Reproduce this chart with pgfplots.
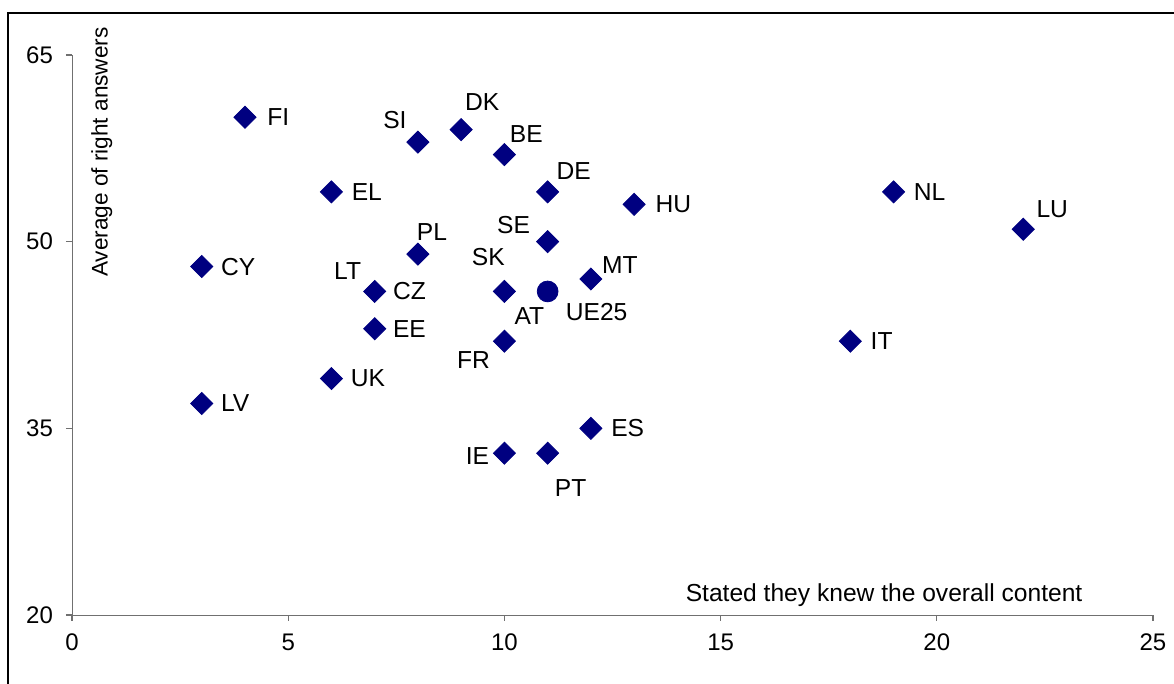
\documentclass[border=0pt]{standalone}
\usepackage{fontspec}
\setmainfont{Liberation Sans}
\usepackage{pgfplots}
\pgfplotsset{compat=1.18}
\definecolor{navy}{HTML}{000080}
\definecolor{axisgray}{HTML}{707070}

\pgfplotstableread{
x  y
4  60
9  59
8  58
10 57
6  54
11 54
13 53
19 54
22 51
11 50
8  49
3  48
12 47
7  46
10 46
7  43
10 42
18 42
6  39
3  37
12 35
10 33
11 33
}\countries

\begin{document}
\begin{tikzpicture}
\useasboundingbox (0,0) rectangle (587pt,342pt);
\clip (0,0) rectangle (587pt,342pt);
\draw[line width=1pt] (4pt,-5pt) -- (4pt,335.5pt) -- (600pt,335.5pt);
\begin{axis}[
    at={(36pt,34.5pt)}, anchor=south west,
    scale only axis,
    width=540.5pt, height=280pt,
    xmin=0, xmax=25, ymin=20, ymax=65,
    xtick={0,5,...,25}, ytick={20,35,50,65},
    axis lines=left,
    axis line style={draw=axisgray, -},
    tick style={draw=axisgray, line width=0.6pt},
    tick align=outside,
    major tick length=3pt,
    tick label style={font=\fontsize{12}{14}\selectfont},
    /pgf/number format/assume math mode=true,
    xticklabel style={yshift=-3pt},
    yticklabel style={xshift=-3pt},
    clip=false,
]
\addplot[only marks, mark=square*, mark size=3.9pt, color=navy,
    mark options={rotate=45, fill=navy, draw=navy}] table {\countries};
\addplot[only marks, mark=*, mark size=5.2pt, color=navy,
    mark options={fill=navy, draw=navy}] coordinates {(11,46)};

\begin{scope}[every node/.style={font=\fontsize{12.3}{14}\selectfont, inner sep=0pt}]
\node[anchor=west, xshift=11pt] at (axis cs:4,60) {FI};
\node[xshift=10.5pt, yshift=14pt] at (axis cs:9,59) {DK};
\node[xshift=-11.5pt, yshift=11pt] at (axis cs:8,58) {SI};
\node[xshift=11pt, yshift=10.5pt] at (axis cs:10,57) {BE};
\node[anchor=west, xshift=10pt] at (axis cs:6,54) {EL};
\node[xshift=13pt, yshift=10.5pt] at (axis cs:11,54) {DE};
\node[anchor=west, xshift=10.5pt] at (axis cs:13,53) {HU};
\node[anchor=west, xshift=10pt] at (axis cs:19,54) {NL};
\node[xshift=14.5pt, yshift=10pt] at (axis cs:22,51) {LU};
\node[xshift=-17pt, yshift=8.5pt] at (axis cs:11,50) {SE};
\node[xshift=7pt, yshift=11pt] at (axis cs:8,49) {PL};
\node[anchor=west, xshift=9.5pt] at (axis cs:3,48) {CY};
\node[xshift=-8pt, yshift=17pt] at (axis cs:10,46) {SK};
\node[xshift=14.5pt, yshift=7pt] at (axis cs:12,47) {MT};
\node[xshift=-13.5pt, yshift=10pt] at (axis cs:7,46) {LT};
\node[anchor=west, xshift=9pt] at (axis cs:7,46) {CZ};
\node[xshift=24.5pt, yshift=-10.5pt] at (axis cs:11,46) {UE25};
\node[anchor=west, xshift=9pt] at (axis cs:7,43) {EE};
\node[xshift=12.5pt, yshift=12.5pt] at (axis cs:10,42) {AT};
\node[xshift=-15.5pt, yshift=-9.5pt] at (axis cs:10,42) {FR};
\node[anchor=west, xshift=10pt] at (axis cs:18,42) {IT};
\node[anchor=west, xshift=9.5pt] at (axis cs:6,39) {UK};
\node[anchor=west, xshift=9.5pt] at (axis cs:3,37) {LV};
\node[anchor=west, xshift=10pt] at (axis cs:12,35) {ES};
\node[xshift=-13.5pt, yshift=-1.5pt] at (axis cs:10,33) {IE};
\node[xshift=11.5pt, yshift=-17.5pt] at (axis cs:11,33) {PT};
\node at (axis cs:18.78,21.6) {Stated they knew the overall content};
\node[rotate=90, font=\fontsize{11.3}{13}\selectfont] at (axis cs:0.69,57.2) {Average of right answers};
\end{scope}
\end{axis}
\end{tikzpicture}
\end{document}
